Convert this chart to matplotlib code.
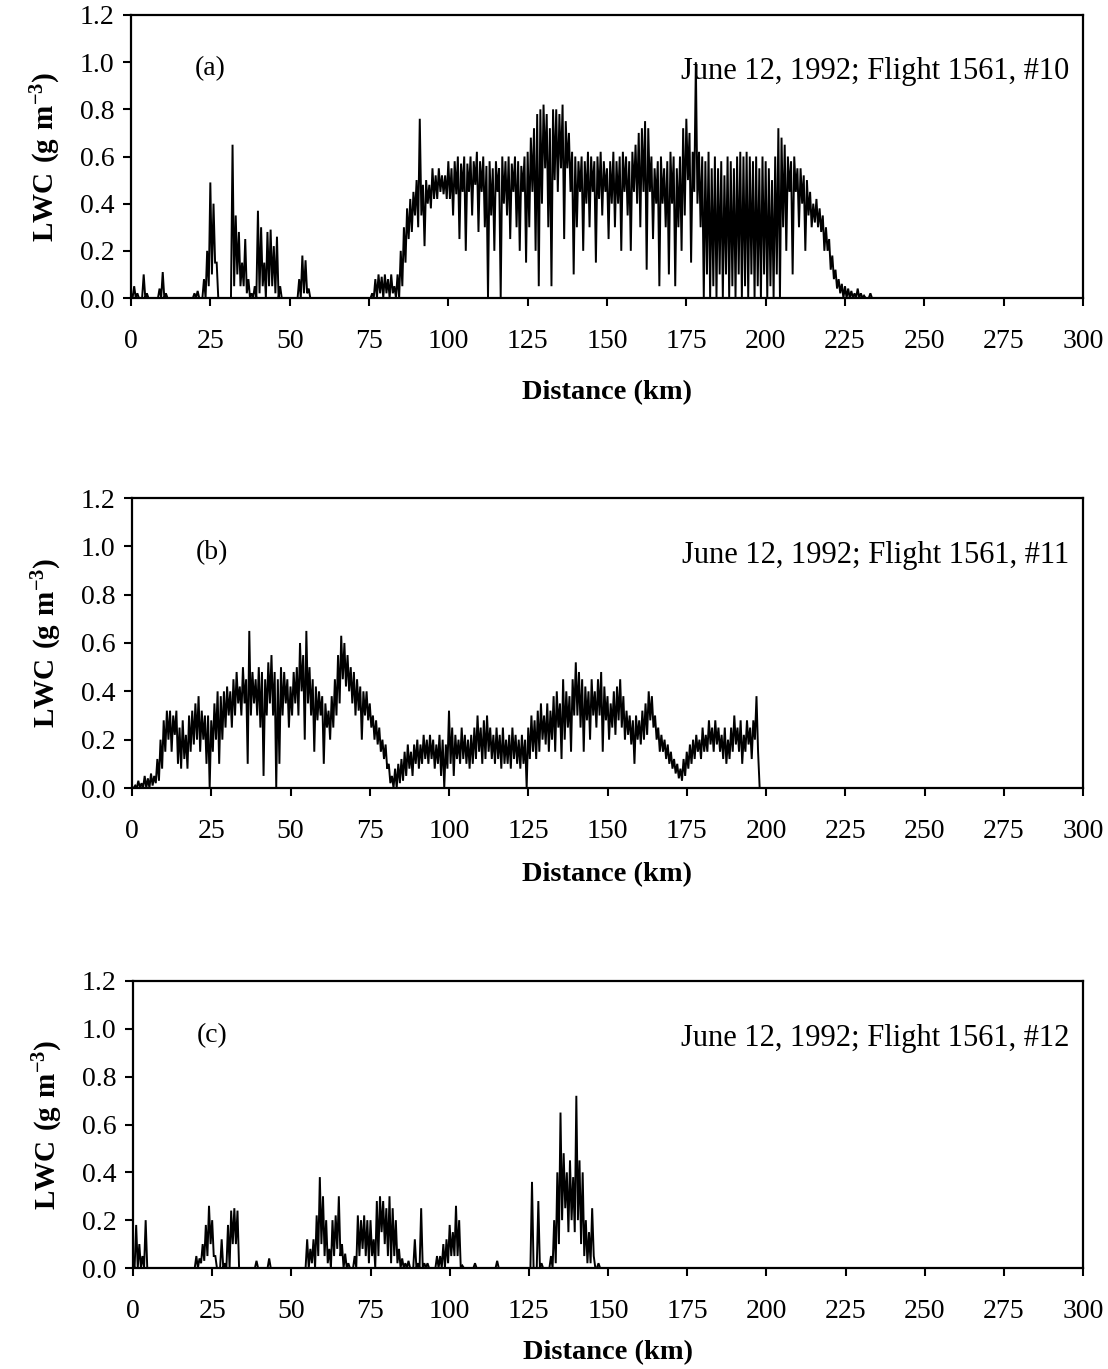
import numpy as np
import matplotlib
matplotlib.use("Agg")
import matplotlib.pyplot as plt

plt.rcParams['font.family'] = ['Liberation Serif', 'DejaVu Serif']
plt.rcParams['mathtext.fontset'] = 'custom'
plt.rcParams['mathtext.rm'] = 'Liberation Serif'
plt.rcParams['mathtext.bf'] = 'Liberation Serif:bold'

# ---- data: per-km local maxima (hi) and minima (lo) of LWC ----
hi_a = [0.02, 0.05, 0.02, 0.0, 0.10, 0.02, 0, 0, 0, 0.04,
        0.11, 0.02, 0, 0, 0, 0, 0, 0, 0, 0,
        0.02, 0.03, 0.0, 0.08, 0.2, 0.49, 0.4, 0.15, 0, 0,
        0, 0, 0.65, 0.35, 0.28, 0.15, 0.25, 0.08, 0.02, 0.05,
        0.37, 0.3, 0.15, 0.28, 0.29, 0.22, 0.26, 0.05, 0, 0,
        0, 0, 0, 0.08, 0.18, 0.16, 0.04, 0, 0, 0,
        0, 0, 0, 0, 0, 0, 0, 0, 0, 0,
        0, 0, 0, 0, 0, 0, 0.02, 0.08, 0.1, 0.09,
        0.1, 0.08, 0.1, 0.05, 0.1, 0.2, 0.3, 0.38, 0.42, 0.45,
        0.5, 0.76, 0.48, 0.5, 0.48, 0.55, 0.52, 0.55, 0.52, 0.52,
        0.58, 0.55, 0.58, 0.6, 0.57, 0.6, 0.57, 0.6, 0.58, 0.62,
        0.58, 0.6, 0.56, 0.58, 0.55, 0.58, 0.55, 0.6, 0.58, 0.6,
        0.57, 0.6, 0.58, 0.56, 0.6, 0.62, 0.68, 0.72, 0.78, 0.8,
        0.82, 0.78, 0.72, 0.8, 0.8, 0.78, 0.82, 0.75, 0.7, 0.62,
        0.6, 0.58, 0.6, 0.58, 0.62, 0.6, 0.58, 0.6, 0.62, 0.58,
        0.55, 0.58, 0.62, 0.58, 0.6, 0.62, 0.6, 0.58, 0.62, 0.65,
        0.7, 0.72, 0.75, 0.72, 0.6, 0.55, 0.58, 0.6, 0.55, 0.58,
        0.62, 0.6, 0.55, 0.6, 0.72, 0.76, 0.7, 0.62, 1.0, 0.62,
        0.6, 0.58, 0.62, 0.55, 0.6, 0.55, 0.58, 0.52, 0.6, 0.58,
        0.55, 0.6, 0.62, 0.6, 0.62, 0.6, 0.58, 0.6, 0.55, 0.6,
        0.58, 0.55, 0.5, 0.6, 0.72, 0.68, 0.65, 0.6, 0.58, 0.6,
        0.55, 0.55, 0.52, 0.5, 0.45, 0.4, 0.42, 0.38, 0.35, 0.3,
        0.25, 0.18, 0.12, 0.08, 0.06, 0.05, 0.04, 0.03, 0.02, 0.04,
        0.02, 0.01, 0.0, 0.02, 0.0]
lo_a = [0, 0, 0, 0, 0, 0, 0, 0, 0, 0,
        0, 0, 0, 0, 0, 0, 0, 0, 0, 0,
        0, 0, 0, 0, 0.05, 0.1, 0.15, 0, 0, 0,
        0, 0, 0.05, 0.1, 0.05, 0.05, 0.02, 0, 0, 0,
        0.02, 0.05, 0.0, 0.05, 0.05, 0.02, 0.0, 0, 0, 0,
        0, 0, 0, 0, 0.02, 0.02, 0, 0, 0, 0,
        0, 0, 0, 0, 0, 0, 0, 0, 0, 0,
        0, 0, 0, 0, 0, 0, 0, 0.0, 0.02, 0.0,
        0.02, 0.0, 0.02, 0.0, 0.0, 0.05, 0.15, 0.25, 0.28, 0.35,
        0.3, 0.35, 0.22, 0.4, 0.38, 0.42, 0.42, 0.45, 0.44, 0.42,
        0.42, 0.35, 0.44, 0.25, 0.45, 0.2, 0.45, 0.35, 0.48, 0.28,
        0.45, 0.3, 0.0, 0.35, 0.2, 0.45, 0.0, 0.4, 0.35, 0.25,
        0.45, 0.3, 0.2, 0.45, 0.15, 0.3, 0.45, 0.2, 0.05, 0.4,
        0.55, 0.3, 0.05, 0.5, 0.45, 0.55, 0.25, 0.55, 0.45, 0.1,
        0.3, 0.45, 0.2, 0.4, 0.3, 0.45, 0.15, 0.42, 0.35, 0.45,
        0.25, 0.4, 0.3, 0.4, 0.2, 0.45, 0.35, 0.2, 0.45, 0.4,
        0.3, 0.45, 0.12, 0.45, 0.25, 0.4, 0.05, 0.4, 0.3, 0.1,
        0.4, 0.05, 0.3, 0.2, 0.35, 0.5, 0.15, 0.45, 0.4, 0.3,
        0.0, 0.1, 0.0, 0.05, 0.0, 0.1, 0.0, 0.1, 0.0, 0.05,
        0.0, 0.1, 0.0, 0.05, 0.0, 0.1, 0.0, 0.05, 0.0, 0.1,
        0.0, 0.05, 0.0, 0.1, 0.0, 0.3, 0.2, 0.45, 0.1, 0.45,
        0.3, 0.4, 0.2, 0.35, 0.3, 0.32, 0.3, 0.28, 0.2, 0.2,
        0.12, 0.08, 0.04, 0.02, 0.0, 0.0, 0.0, 0, 0, 0,
        0, 0, 0, 0, 0]

hi_b = [0, 0.01, 0.03, 0.02, 0.05, 0.04, 0.06, 0.05, 0.12, 0.2,
        0.28, 0.32, 0.32, 0.3, 0.32, 0.25, 0.28, 0.22, 0.3, 0.32,
        0.35, 0.38, 0.32, 0.3, 0.3, 0.28, 0.35, 0.4, 0.38, 0.4,
        0.42, 0.4, 0.45, 0.48, 0.42, 0.5, 0.45, 0.65, 0.48, 0.45,
        0.5, 0.48, 0.45, 0.52, 0.55, 0.48, 0.45, 0.5, 0.48, 0.45,
        0.42, 0.48, 0.5, 0.6, 0.55, 0.65, 0.5, 0.45, 0.42, 0.4,
        0.38, 0.35, 0.32, 0.38, 0.45, 0.55, 0.63, 0.6, 0.55, 0.5,
        0.48, 0.45, 0.42, 0.4, 0.4, 0.35, 0.3, 0.28, 0.25, 0.2,
        0.18, 0.1, 0.05, 0.08, 0.1, 0.12, 0.15, 0.18, 0.15, 0.18,
        0.2, 0.18, 0.22, 0.2, 0.22, 0.2, 0.18, 0.22, 0.2, 0.18,
        0.32, 0.25, 0.22, 0.2, 0.25, 0.22, 0.2, 0.22, 0.25, 0.3,
        0.25, 0.28, 0.3, 0.25, 0.22, 0.25, 0.22, 0.25, 0.2, 0.22,
        0.25, 0.22, 0.2, 0.22, 0.2, 0.25, 0.3, 0.28, 0.32, 0.35,
        0.3, 0.35, 0.32, 0.38, 0.4, 0.35, 0.45, 0.4, 0.38, 0.45,
        0.52, 0.48, 0.45, 0.42, 0.4, 0.45, 0.4, 0.45, 0.48, 0.42,
        0.38, 0.35, 0.4, 0.42, 0.45, 0.38, 0.32, 0.3, 0.28, 0.3,
        0.28, 0.32, 0.35, 0.4, 0.38, 0.3, 0.25, 0.22, 0.2, 0.18,
        0.15, 0.12, 0.1, 0.08, 0.12, 0.15, 0.18, 0.2, 0.22, 0.2,
        0.25, 0.22, 0.28, 0.25, 0.28, 0.25, 0.22, 0.25, 0.2, 0.25,
        0.3, 0.25, 0.28, 0.22, 0.28, 0.25, 0.28, 0.38, 0.0]
lo_b = [0, 0, 0, 0, 0, 0.0, 0.01, 0.02, 0.03, 0.08,
        0.15, 0.2, 0.15, 0.22, 0.1, 0.08, 0.12, 0.08, 0.15, 0.18,
        0.2, 0.15, 0.2, 0.1, 0.0, 0.15, 0.2, 0.1, 0.2, 0.25,
        0.3, 0.25, 0.3, 0.35, 0.3, 0.35, 0.1, 0.3, 0.35, 0.3,
        0.25, 0.05, 0.3, 0.35, 0.3, 0.0, 0.1, 0.3, 0.35, 0.25,
        0.3, 0.35, 0.3, 0.4, 0.2, 0.35, 0.3, 0.15, 0.28, 0.3,
        0.1, 0.25, 0.2, 0.25, 0.3, 0.35, 0.45, 0.42, 0.4, 0.35,
        0.3, 0.32, 0.2, 0.3, 0.28, 0.25, 0.2, 0.18, 0.15, 0.12,
        0.08, 0.02, 0.0, 0.0, 0.02, 0.03, 0.05, 0.08, 0.05, 0.1,
        0.08, 0.1, 0.12, 0.1, 0.12, 0.08, 0.1, 0.05, 0.0, 0.08,
        0.1, 0.05, 0.12, 0.1, 0.12, 0.1, 0.08, 0.1, 0.12, 0.15,
        0.1, 0.12, 0.15, 0.12, 0.1, 0.12, 0.08, 0.1, 0.1, 0.08,
        0.12, 0.1, 0.08, 0.1, 0.0, 0.12, 0.15, 0.12, 0.15, 0.2,
        0.18, 0.15, 0.2, 0.15, 0.25, 0.12, 0.2, 0.25, 0.15, 0.3,
        0.3, 0.25, 0.15, 0.28, 0.2, 0.3, 0.25, 0.3, 0.15, 0.28,
        0.2, 0.25, 0.22, 0.28, 0.25, 0.2, 0.22, 0.18, 0.1, 0.2,
        0.18, 0.2, 0.22, 0.28, 0.25, 0.2, 0.15, 0.15, 0.12, 0.1,
        0.08, 0.06, 0.04, 0.03, 0.05, 0.08, 0.1, 0.12, 0.15, 0.12,
        0.15, 0.15, 0.18, 0.15, 0.18, 0.15, 0.12, 0.1, 0.12, 0.15,
        0.18, 0.15, 0.1, 0.15, 0.18, 0.12, 0.2, 0.15, 0.0]

hi_c = [0.02, 0.18, 0.1, 0.05, 0.2, 0.0, 0, 0, 0, 0,
        0, 0, 0, 0, 0, 0, 0, 0, 0, 0,
        0.05, 0.04, 0.1, 0.18, 0.26, 0.2, 0.05, 0.0, 0.12, 0.02,
        0.18, 0.24, 0.25, 0.24, 0.0, 0, 0, 0, 0, 0.03,
        0, 0, 0, 0.04, 0, 0, 0, 0, 0, 0,
        0, 0, 0, 0, 0.0, 0.12, 0.08, 0.12, 0.22, 0.38,
        0.3, 0.2, 0.08, 0.2, 0.22, 0.3, 0.1, 0.06, 0.02, 0.0,
        0.05, 0.22, 0.2, 0.22, 0.2, 0.2, 0.12, 0.28, 0.3, 0.28,
        0.25, 0.3, 0.25, 0.2, 0.08, 0.04, 0.02, 0.03, 0.0, 0.12,
        0.02, 0.25, 0.02, 0.02, 0.0, 0.0, 0.05, 0.05, 0.1, 0.12,
        0.18, 0.15, 0.26, 0.2, 0.01, 0.0, 0, 0, 0.02, 0,
        0, 0, 0, 0, 0, 0.03, 0, 0, 0, 0,
        0, 0, 0, 0, 0, 0, 0.36, 0.0, 0.28, 0.02,
        0, 0, 0.05, 0.2, 0.4, 0.65, 0.48, 0.4, 0.45, 0.38,
        0.72, 0.45, 0.4, 0.2, 0.15, 0.25, 0.0, 0.02, 0]
lo_c = [0, 0, 0, 0, 0, 0, 0, 0, 0, 0,
        0, 0, 0, 0, 0, 0, 0, 0, 0, 0,
        0, 0.02, 0.03, 0.05, 0.1, 0.05, 0, 0, 0, 0,
        0.0, 0.1, 0.1, 0.0, 0, 0, 0, 0, 0, 0,
        0, 0, 0, 0, 0, 0, 0, 0, 0, 0,
        0, 0, 0, 0, 0, 0.0, 0.02, 0.0, 0.05, 0.1,
        0.05, 0.02, 0.0, 0.05, 0.08, 0.05, 0.0, 0, 0, 0,
        0, 0.05, 0.08, 0.05, 0.02, 0.05, 0, 0.05, 0.15, 0.1,
        0.05, 0.02, 0.05, 0.02, 0, 0, 0, 0, 0, 0,
        0, 0, 0, 0, 0, 0, 0, 0, 0, 0.02,
        0.05, 0.05, 0.05, 0.0, 0, 0, 0, 0, 0, 0,
        0, 0, 0, 0, 0, 0, 0, 0, 0, 0,
        0, 0, 0, 0, 0, 0, 0, 0, 0, 0,
        0, 0, 0, 0.02, 0.1, 0.2, 0.25, 0.15, 0.2, 0.15,
        0.2, 0.1, 0.05, 0.02, 0.02, 0.05, 0.0, 0, 0]

panel_labels = ['(a)', '(b)', '(c)']
flight_labels = ['June 12, 1992; Flight 1561, #10',
                 'June 12, 1992; Flight 1561, #11',
                 'June 12, 1992; Flight 1561, #12']
xticks = list(range(0, 301, 25))
yticks = [0.0, 0.2, 0.4, 0.6, 0.8, 1.0, 1.2]


def trace(hi, lo):
    xs, ys = [], []
    for i, (h, l) in enumerate(zip(hi, lo)):
        xs += [i, i + 0.5]
        ys += [h, l]
    return np.array(xs), np.array(ys)


W, H = 1108, 1369
fig = plt.figure(figsize=(W / 100, H / 100), dpi=100)

boxes = [(131, 15, 1083, 298), (132, 498, 1083, 788), (133, 981, 1083, 1268)]
series = [(hi_a, lo_a), (hi_b, lo_b), (hi_c, lo_c)]
xlabel_pads = [19, 13, 12]

for k, ((l, t, r, b), (hi, lo)) in enumerate(zip(boxes, series)):
    ax = fig.add_axes([l / W, 1 - b / H, (r - l) / W, (b - t) / H])
    x, y = trace(hi, lo)
    ax.plot(x, y, color='black', lw=1.4, solid_joinstyle='miter')
    ax.set_xlim(0, 300)
    ax.set_ylim(0, 1.2)
    ax.set_xticks(xticks)
    ax.set_yticks(yticks)
    ax.set_yticklabels([f'{v:.1f}' for v in yticks])
    ax.tick_params(axis='both', direction='out', length=6, width=1.5,
                   labelsize=20, colors='black')
    ax.tick_params(axis='x', pad=16)
    ax.tick_params(axis='y', pad=6)
    for s in ax.spines.values():
        s.set_linewidth(1.6)
    ax.set_xlabel('Distance (km)', fontsize=20.5, fontweight='bold',
                  labelpad=xlabel_pads[k])
    ax.set_ylabel(r'$\mathbf{LWC\ (g\ m^{-3})}$', fontsize=21, labelpad=12)
    ax.text(0.067, 0.81, panel_labels[k], transform=ax.transAxes,
            fontsize=20, ha='left', va='center')
    ax.text(0.986, 0.80, flight_labels[k], transform=ax.transAxes,
            fontsize=22, ha='right', va='center')

fig.savefig('out.png', dpi=100)
